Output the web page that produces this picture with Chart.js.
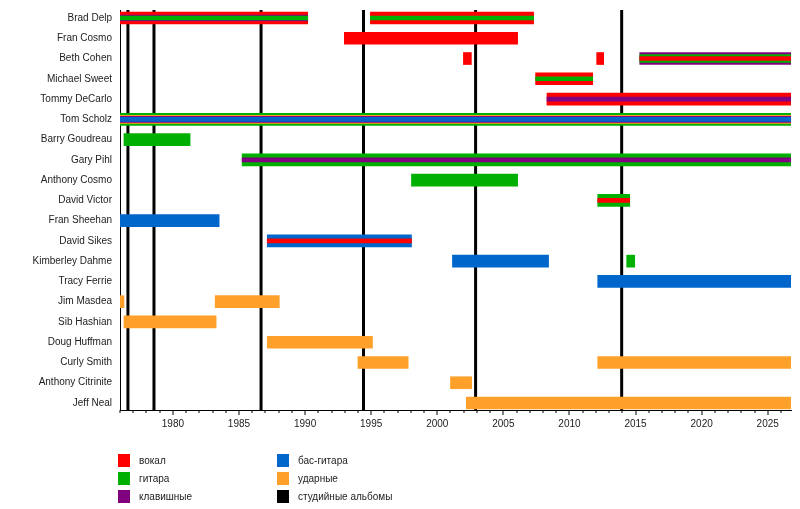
<!DOCTYPE html>
<html>
<head>
<meta charset="utf-8">
<script src="https://cdn.jsdelivr.net/npm/chart.js@4/dist/chart.umd.min.js"></script>
<style>
  html, body { margin: 0; padding: 0; background: #fff; }
  #wrap { position: relative; width: 800px; height: 509px; overflow: hidden; }
  #c { position: absolute; left: 0; top: 0; }
  .lg { position: absolute; font: 10px "Liberation Sans", Arial, sans-serif; color: #222; }
  .sw { position: absolute; width: 12px; height: 13px; }
  .lt { position: absolute; white-space: nowrap; line-height: 13px; }
</style>
</head>
<body>
<div id="wrap">
  <canvas id="c" width="800" height="509"></canvas>
  <div id="legend"></div>
</div>
<script>
// ---------------- data ----------------
const present = 2026.76;
const members = ['Brad Delp', 'Fran Cosmo', 'Beth Cohen', 'Michael Sweet', 'Tommy DeCarlo',
  'Tom Scholz', 'Barry Goudreau', 'Gary Pihl', 'Anthony Cosmo', 'David Victor',
  'Fran Sheehan', 'David Sikes', 'Kimberley Dahme', 'Tracy Ferrie', 'Jim Masdea',
  'Sib Hashian', 'Doug Huffman', 'Curly Smith', 'Anthony Citrinite', 'Jeff Neal'];

const roleKeys = ['vocals', 'guitar', 'keyboards', 'bass', 'drums', 'albums'];
const roleLabels = ['вокал', 'гитара', 'клавишные', 'бас-гитара', 'ударные', 'студийные альбомы'];

const albums = [1976.6, 1978.57, 1986.67, 1994.42, 2002.9, 2013.95];

const tickYears = [1980, 1985, 1990, 1995, 2000, 2005, 2010, 2015, 2020, 2025];

// outer (main role) bars
const outerBars = [
  ['Brad Delp', 1976, 1990.2, 'vocals'],
  ['Brad Delp', 1994.94, 2007.29, 'vocals'],
  ['Fran Cosmo', 1992.97, 2006.08, 'vocals'],
  ['Beth Cohen', 2001.98, 2002.58, 'vocals'],
  ['Beth Cohen', 2012.06, 2012.59, 'vocals'],
  ['Beth Cohen', 2015.32, present, 'keyboards'],
  ['Michael Sweet', 2007.44, 2011.76, 'vocals'],
  ['Tommy DeCarlo', 2008.3, present, 'vocals'],
  ['Tom Scholz', 1976, present, 'guitar'],
  ['Barry Goudreau', 1976.3, 1981.3, 'guitar'],
  ['Gary Pihl', 1985.24, present, 'guitar'],
  ['Anthony Cosmo', 1998.05, 2006.08, 'guitar'],
  ['David Victor', 2012.14, 2014.56, 'guitar'],
  ['Fran Sheehan', 1976, 1983.5, 'bass'],
  ['David Sikes', 1987.14, 1998.05, 'bass'],
  ['Kimberley Dahme', 2001.15, 2008.42, 'bass'],
  ['Kimberley Dahme', 2014.33, 2014.94, 'guitar'],
  ['Tracy Ferrie', 2012.14, present, 'bass'],
  ['Jim Masdea', 1976, 1976.3, 'drums'],
  ['Jim Masdea', 1983.2, 1988.05, 'drums'],
  ['Sib Hashian', 1976.3, 1983.27, 'drums'],
  ['Doug Huffman', 1987.14, 1995.1, 'drums'],
  ['Curly Smith', 1994.0, 1997.8, 'drums'],
  ['Curly Smith', 2012.14, present, 'drums'],
  ['Anthony Citrinite', 2001.0, 2002.6, 'drums'],
  ['Jeff Neal', 2002.2, present, 'drums']
];
// second roles
const secondBars = [
  ['Beth Cohen', 2015.32, present, 'guitar'],
  ['Tom Scholz', 1976, present, 'drums']
];
// third roles
const thirdBars = [
  ['Brad Delp', 1976, 1990.2, 'keyboards'],
  ['Tom Scholz', 1976, present, 'keyboards']
];
// innermost roles
const innerBars = [
  ['Brad Delp', 1976, 1990.2, 'guitar'],
  ['Brad Delp', 1994.94, 2007.29, 'guitar'],
  ['Beth Cohen', 2015.32, present, 'vocals'],
  ['Michael Sweet', 2007.44, 2011.76, 'guitar'],
  ['Tommy DeCarlo', 2008.3, present, 'keyboards'],
  ['Tom Scholz', 1976, present, 'bass'],
  ['Gary Pihl', 1985.24, present, 'keyboards'],
  ['David Victor', 2012.14, 2014.56, 'vocals'],
  ['David Sikes', 1987.14, 1998.05, 'vocals']
];

// ---------------- styles ----------------
const roleColors = {
  vocals: '#ff0000',
  guitar: '#00b000',
  keyboards: '#800080',
  bass: '#0066cc',
  drums: '#ffa02a',
  albums: '#000000'
};
const FONT = '"Liberation Sans", Arial, sans-serif';
const Y_MIN = -0.3948, Y_MAX = 19.3455;

function makeDataset(bars, thickness, order) {
  return {
    data: bars.map(b => ({ x: [b[1], b[2]], y: members.indexOf(b[0]) })),
    backgroundColor: bars.map(b => roleColors[b[3]]),
    borderWidth: 0,
    borderSkipped: false,
    barThickness: thickness,
    grouped: false,
    order: order
  };
}

const overlay = {
  id: 'overlay',
  beforeDatasetsDraw(chart) {
    const { ctx, chartArea, scales } = chart;
    ctx.save();
    ctx.fillStyle = roleColors.albums;
    albums.forEach(a => {
      const x = scales.x.getPixelForValue(a);
      ctx.fillRect(x - 1.5, chartArea.top, 3, chartArea.bottom - chartArea.top);
    });
    ctx.restore();
  },
  afterDraw(chart) {
    const { ctx, chartArea, scales } = chart;
    ctx.save();
    ctx.fillStyle = '#000';
    for (let yr = 1976; yr <= Math.floor(present); yr++) {
      const x = Math.round(scales.x.getPixelForValue(yr));
      const len = yr % 5 === 0 ? 5 : 3;
      ctx.fillRect(x - 0.5, chartArea.bottom, 1, len);
    }
    ctx.restore();
  }
};

new Chart(document.getElementById('c'), {
  type: 'bar',
  data: {
    datasets: [
      makeDataset(outerBars, 12, 4),
      makeDataset(secondBars, 8, 3),
      makeDataset(thirdBars, 6, 2),
      makeDataset(innerBars, 4, 1)
    ]
  },
  options: {
    indexAxis: 'y',
    responsive: false,
    animation: false,
    devicePixelRatio: 1,
    layout: { padding: { top: 10, right: 9, left: 0, bottom: 0 } },
    plugins: { legend: { display: false }, tooltip: { enabled: false } },
    scales: {
      x: {
        type: 'linear',
        min: 1976,
        max: present,
        offset: false,
        grid: { display: false, drawTicks: false, offset: false },
        border: { display: true, color: '#000', width: 1 },
        afterBuildTicks: s => { s.ticks = tickYears.map(v => ({ value: v })); },
        afterFit: s => { s.height = 99; s.paddingLeft = 0; s.paddingRight = 0; },
        ticks: { padding: 8, color: '#222', font: { family: FONT, size: 10 }, maxRotation: 0, autoSkip: false,
          callback: v => String(v) }
      },
      y: {
        type: 'linear',
        reverse: true,
        min: Y_MIN,
        max: Y_MAX,
        offset: false,
        bounds: 'data',
        grid: { display: false, drawTicks: false, offset: false },
        border: { display: true, color: '#000', width: 1 },
        afterDataLimits: s => { s.min = Y_MIN; s.max = Y_MAX; },
        afterBuildTicks: s => { s.ticks = members.map((m, i) => ({ value: i })); s.min = Y_MIN; s.max = Y_MAX; },
        afterFit: s => { s.width = 120; s.paddingTop = 0; s.paddingBottom = 0; },
        ticks: { padding: 8, color: '#222', font: { family: FONT, size: 10 }, autoSkip: false,
          callback: v => members[v] }
      }
    }
  },
  plugins: [overlay]
});

// legend (HTML text)
const legendEl = document.getElementById('legend');
const colX = [118, 277];
const rowY = [454, 472, 490];
roleKeys.forEach((k, i) => {
  const col = Math.floor(i / 3), row = i % 3;
  const item = document.createElement('div');
  item.className = 'lg';
  item.style.left = colX[col] + 'px';
  item.style.top = rowY[row] + 'px';
  const sw = document.createElement('div');
  sw.className = 'sw';
  sw.style.left = '0px'; sw.style.top = '0px';
  sw.style.background = roleColors[k];
  const t = document.createElement('div');
  t.className = 'lt';
  t.style.left = '21px'; t.style.top = '0px';
  t.textContent = roleLabels[i];
  item.appendChild(sw); item.appendChild(t);
  legendEl.appendChild(item);
});
</script>
</body>
</html>
